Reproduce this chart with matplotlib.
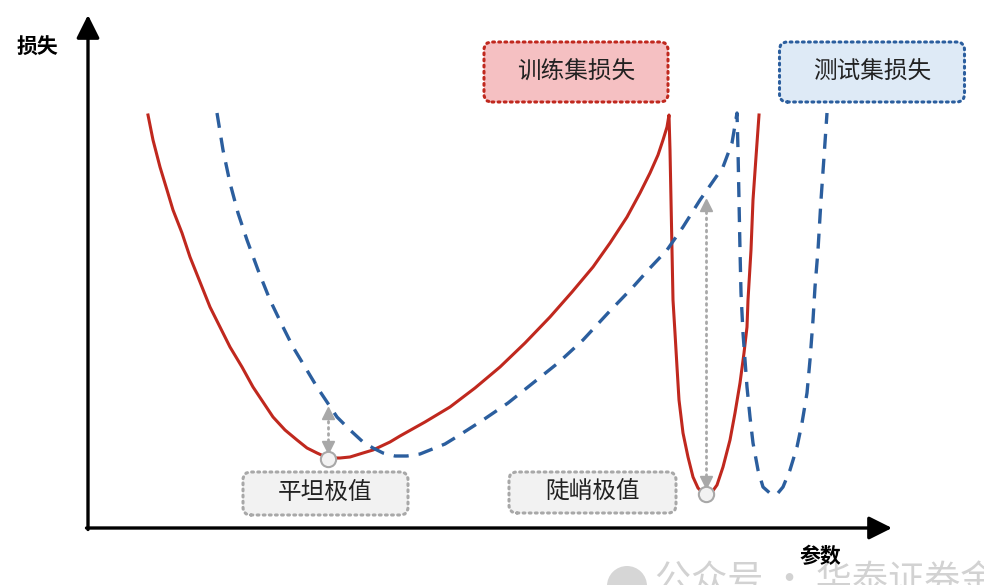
import numpy as np
import matplotlib
matplotlib.use("Agg")
import matplotlib.pyplot as plt
from matplotlib.patches import FancyBboxPatch, Circle

plt.rcParams['font.family'] = ['Noto Sans CJK SC', 'DejaVu Sans']

# ---- data (parameter, loss) ----
train_param = [60, 65, 72, 79, 85, 94, 102, 112, 122, 132, 142, 154, 165, 175, 185, 197,
               209, 219, 229, 240, 252, 262, 275, 285, 302, 312, 337, 362, 387, 412,
               437, 462, 484, 505, 522, 539, 552, 562, 570, 575, 579, 581,
               582, 583, 584, 585, 587, 589, 591, 595, 600, 605, 610, 617, 624, 629,
               635, 642, 647, 652, 656, 659, 660, 663, 665, 668, 671]
train_loss = [413, 388, 361, 338, 318, 295, 271, 246, 221, 201, 181, 161, 141, 126, 111, 98,
              88, 80, 75, 70, 70, 71, 75, 78, 86, 92, 106, 121, 140, 161,
              185, 211, 236, 261, 285, 311, 335, 355, 373, 388, 401, 413,
              378, 328, 278, 228, 195, 161, 128, 95, 71, 51, 40, 33, 36, 43,
              61, 88, 115, 145, 175, 201, 228, 278, 328, 371, 413]

test_param = [129, 135, 142, 150, 159, 170, 182, 194, 205, 217, 229, 239, 249, 262, 275,
              285, 295, 307, 319, 332, 342, 357, 370, 395, 420, 445, 470, 495, 520, 545,
              562, 579, 595, 612, 635, 644, 649,
              650, 651, 652, 653, 655, 657, 659, 662, 665, 670, 675, 684, 690, 695, 702,
              709, 714, 719, 722, 725, 727, 730, 733, 736, 739]
test_loss = [415, 378, 345, 315, 288, 258, 228, 203, 181, 161, 141, 126, 111, 98, 86,
             80, 75, 72, 72, 74, 78, 84, 92, 108, 125, 145, 165, 188, 215, 241,
             260, 278, 301, 328, 361, 385, 415,
             378, 328, 278, 235, 195, 168, 141, 111, 85, 58, 41, 33, 35, 41, 58,
             81, 105, 135, 168, 208, 241, 278, 328, 371, 415]

series_labels = ["训练集损失", "测试集损失"]
extrema_labels = ["平坦极值", "陡峭极值"]
extrema_param = [240, 618]
extrema_loss = [69, 34]
gap_top = [120, 328]        # loss level the dotted gap arrow reaches
axis_labels = ["损失", "参数"]

RED = "#C0281E"
BLUE = "#2B5E9E"
GRAY = "#A8A8A8"

fig = plt.figure(figsize=(9.84, 5.85), dpi=100)
ax = fig.add_axes([0, 0, 1, 1])
ax.set_xlim(-88, 896)
ax.set_ylim(-57, 528)
ax.axis("off")

# axes with arrows
for xy, xyt in [((0, 513), (0, -1.5)), ((804, 0), (-1.5, 0))]:
    ax.annotate("", xy=xy, xytext=xyt,
                arrowprops=dict(arrowstyle="-|>,head_length=0.7,head_width=0.35",
                                lw=2.4, color="black", mutation_scale=20,
                                shrinkA=0, shrinkB=0))
ax.text(-51, 481, axis_labels[0], fontsize=15, fontweight="bold", ha="center", va="center")
ax.text(732, -29, axis_labels[1], fontsize=15, fontweight="bold", ha="center", va="center",
        zorder=5)

# curves
ax.plot(train_param, train_loss, color=RED, lw=2.2, solid_joinstyle="round", zorder=3)
ax.plot(test_param, test_loss, color=BLUE, lw=2.4, linestyle=(0, (4.5, 3.0)),
        dash_capstyle="butt", zorder=3)

# label boxes
def box(cx, cy, w, h, fc, ec, text):
    p = FancyBboxPatch((cx - w / 2, cy - h / 2), w, h,
                       boxstyle="round,pad=0,rounding_size=8",
                       fc=fc, ec=ec, lw=2.2, linestyle=(0, (0.6, 1.4)),
                       capstyle="round", zorder=4)
    ax.add_patch(p)
    ax.text(cx, cy, text, fontsize=17, ha="center", va="center", color="#222222", zorder=5)

box(488, 456, 184, 60, "#F5C0C2", "#C0281E", series_labels[0])
box(784, 456, 185, 60, "#DEEAF6", "#2B5E9E", series_labels[1])
box(237.5, 34.5, 165, 43, "#F2F2F2", GRAY, extrema_labels[0])
box(504.5, 35.5, 167, 41, "#F2F2F2", GRAY, extrema_labels[1])

# dotted gap arrows and extrema markers
for i in range(2):
    x = extrema_param[i]
    lo = extrema_loss[i] + 8
    hi = gap_top[i]
    ax.plot([x, x], [lo + 4, hi - 4], color=GRAY, lw=2.0, linestyle=(0, (0.6, 1.6)),
            dash_capstyle="round", zorder=5)
    ax.plot([x], [hi - 5], marker="^", ms=8, color=GRAY, mec=GRAY, zorder=5)
    ax.plot([x], [lo + 4], marker="v", ms=8, color=GRAY, mec=GRAY, zorder=5)
    ax.plot([x], [extrema_loss[i]], marker="o", ms=11, mfc="#F2F2F2", mec=GRAY,
            mew=1.5, zorder=6)

# faint watermark at bottom edge
ax.add_patch(Circle((539, -58), 20, fc="#D6D6D6", ec="none", zorder=1))
ax.text(567, -36, "公众号 · 华泰证券金工", fontsize=26, color="#D2D2D2",
        ha="left", va="top", zorder=1)

fig.savefig("out.png", dpi=100)
